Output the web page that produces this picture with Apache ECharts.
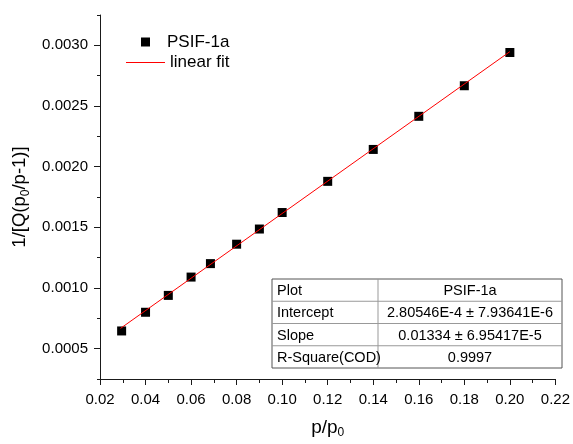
<!DOCTYPE html>
<html>
<head>
<meta charset="utf-8">
<script src="https://cdn.jsdelivr.net/npm/echarts@6/dist/echarts.min.js"></script>
<style>html,body{margin:0;padding:0;background:#fff}#c{width:573px;height:444px}</style>
</head>
<body>
<div id="c"></div>
<script>
// ---- data ----
const pX = [0.0295, 0.04, 0.05, 0.06, 0.0685, 0.08, 0.09, 0.10, 0.12, 0.14, 0.16, 0.18, 0.20];
const pY = [0.000646, 0.000800, 0.000939, 0.001090, 0.001201, 0.001361, 0.001486, 0.001622, 0.001879, 0.002142, 0.002415, 0.002667, 0.002941];
const fitX = [0.029, 0.20];
const fitY = [0.000667, 0.002948];
const yMajorTicks = [0.0005, 0.0010, 0.0015, 0.0020, 0.0025, 0.0030];
const yMinorTicks = [0.00025, 0.00075, 0.00125, 0.00175, 0.00225, 0.00275, 0.00325];
const tableLabels = ['Plot', 'Intercept', 'Slope', 'R-Square(COD)'];
const tableValues = ['PSIF-1a', '2.80546E-4 \u00b1 7.93641E-6', '0.01334 \u00b1 6.95417E-5', '0.9997'];
const seriesNames = ['PSIF-1a', 'linear fit'];

const FONT = 'Liberation Sans, Arial, sans-serif';
const axisColor = '#1a1a1a';

// table graphic
const tX = 272, tY = 279, tW = 290, rowH = 22.25, colX = 378;
const tableEls = [];
tableEls.push({type:'rect', shape:{x:tX, y:tY, width:tW, height:rowH*tableLabels.length}, style:{fill:'#fff', stroke:'#555', lineWidth:1}, z:10});
for (let i = 1; i < tableLabels.length; i++) {
  tableEls.push({type:'line', shape:{x1:tX, y1:tY+rowH*i, x2:tX+tW, y2:tY+rowH*i}, style:{stroke:'#999', lineWidth:1}, z:11});
}
tableEls.push({type:'line', shape:{x1:colX, y1:tY, x2:colX, y2:tY+rowH*tableLabels.length}, style:{stroke:'#999', lineWidth:1}, z:11});
tableLabels.forEach((t, i) => {
  tableEls.push({type:'text', x:tX+5, y:tY+rowH*i+rowH/2+1, style:{text:t, fill:'#000', font:'14.5px ' + FONT, verticalAlign:'middle', align:'left'}, z:12});
  tableEls.push({type:'text', x:(colX+tX+tW)/2, y:tY+rowH*i+rowH/2+1, style:{text:tableValues[i], fill:'#000', font:'14.5px ' + FONT, verticalAlign:'middle', align:'center'}, z:12});
});

const chart = echarts.init(document.getElementById('c'));
chart.setOption({
  animation: false,
  backgroundColor: '#fff',
  textStyle: {fontFamily: FONT},
  grid: {left: 100, top: 15, right: 15, bottom: 60, containLabel: false},
  legend: [
    {data: [seriesNames[0]], left: 136, top: 28.5, orient: 'vertical', itemWidth: 9, itemHeight: 9,
     itemStyle: {color: '#000', borderWidth: 0},
     textStyle: {fontSize: 17, color: '#000', fontFamily: FONT, padding: [0, 0, 0, 12]}},
    {data: [{name: seriesNames[1], icon: 'rect'}], left: 121, top: 49, orient: 'vertical', itemWidth: 39, itemHeight: 1,
     itemStyle: {color: '#ff0000'},
     textStyle: {fontSize: 17, color: '#000', fontFamily: FONT}}
  ],
  xAxis: {
    type: 'value', min: 0.02, max: 0.22, interval: 0.02,
    name: 'p/p{sub|0}', nameLocation: 'middle', nameGap: 38,
    nameTextStyle: {fontSize: 19, color: '#000', fontFamily: FONT,
      rich: {sub: {fontSize: 12, verticalAlign: 'bottom', padding: [10, 0, 0, 0], fontFamily: FONT, color: '#000'}}},
    axisLine: {show: true, lineStyle: {color: axisColor, width: 1}},
    axisTick: {show: true, length: 6, inside: false, lineStyle: {color: axisColor}},
    minorTick: {show: true, splitNumber: 2, length: 4, lineStyle: {color: axisColor}},
    axisLabel: {fontSize: 15, color: '#000', margin: 13, formatter: v => v.toFixed(2)},
    splitLine: {show: false}, minorSplitLine: {show: false}
  },
  yAxis: [
    {
      type: 'value', min: 0.00025, max: 0.00325, interval: 0.00025, position: 'left',
      name: '1/[Q(p{sub|0}/p-1)]', nameLocation: 'middle', nameGap: 60,
      nameTextStyle: {fontSize: 18.5, color: '#000', fontFamily: FONT,
        rich: {sub: {fontSize: 12, verticalAlign: 'bottom', padding: [10, 0, 0, 0], fontFamily: FONT, color: '#000'}}},
      axisLine: {show: true, lineStyle: {color: axisColor, width: 1}},
      axisTick: {show: true, length: 6, customValues: yMajorTicks, lineStyle: {color: axisColor}},
      axisLabel: {fontSize: 15, color: '#000', margin: 12, customValues: yMajorTicks, formatter: v => v.toFixed(4)},
      splitLine: {show: false}
    },
    {
      type: 'value', min: 0.00025, max: 0.00325, interval: 0.00025, position: 'left', offset: 0,
      axisLine: {show: false},
      axisTick: {show: true, length: 3, customValues: yMinorTicks, lineStyle: {color: axisColor}},
      axisLabel: {show: false},
      splitLine: {show: false}
    }
  ],
  series: [
    {
      name: seriesNames[1], type: 'line', symbol: 'none', yAxisIndex: 0,
      data: fitX.map((x, i) => [x, fitY[i]]),
      lineStyle: {color: '#ff0000', width: 1}, itemStyle: {color: '#ff0000'}, z: 3
    },
    {
      name: seriesNames[0], type: 'scatter', symbol: 'rect', symbolSize: 9, yAxisIndex: 0,
      data: pX.map((x, i) => [x, pY[i]]),
      itemStyle: {color: '#000', borderWidth: 0, opacity: 1}, z: 2
    }
  ],
  graphic: tableEls
});
</script>
</body>
</html>
